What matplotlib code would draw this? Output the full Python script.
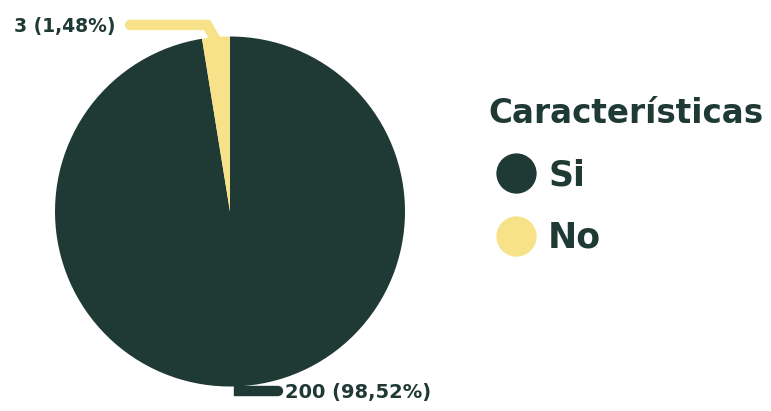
import numpy as np
import matplotlib.pyplot as plt
from matplotlib.lines import Line2D

# data
categories = ["Si", "No"]
values = [200, 3]
pct_labels = ["98,52%", "1,48%"]
colors = ["#1F3A34", "#F7E189"]
legend_title = "Características"

plt.rcParams['font.family'] = ['DejaVu Sans']
dark = "#1F3A34"

W, H = 771, 411
fig = plt.figure(figsize=(W / 100, H / 100), dpi=100)
ax = fig.add_axes([0, 0, 1, 1])

# the source chart draws small slices with a minimum angle
min_angle = 9.2
frac = np.array(values, dtype=float) / sum(values) * 360
disp = np.maximum(frac, min_angle)
big = frac >= min_angle
disp[big] = frac[big] * (360 - disp[~big].sum()) / frac[big].sum()

wedges, _ = ax.pie(disp, colors=colors, startangle=90, counterclock=False,
                   wedgeprops=dict(linewidth=0))

# pie: radius 175 px, centre at (230, 211.5) px from top-left
R = 175.0
cx, cy = 230.0, 211.5
ax.set_xlim(-cx / R, (W - cx) / R)
ax.set_ylim(-(H - cy) / R, cy / R)
ax.set_aspect('equal')
ax.axis('off')

# leader lines + labels
for w, v, p, c in zip(wedges, values, pct_labels, colors):
    ang = np.deg2rad((w.theta1 + w.theta2) / 2)
    x0, y0 = np.cos(ang), np.sin(ang)
    txt = f"{v} ({p})"
    if y0 > 0:
        ey = 1.066
        xs = [x0, -0.131, -0.571]
        ys = [y0 - 0.02, ey, ey]
        ax.plot(xs, ys, color=c, lw=7.5, solid_capstyle='round',
                solid_joinstyle='miter', clip_on=False)
        ax.text(-0.657, ey, txt, ha='right', va='center_baseline', fontsize=13.5,
                fontweight='bold', color=dark)
    else:
        ey = -1.023
        xs = [x0 - 0.03, x0 - 0.03, 0.274]
        ys = [y0 + 0.03, ey, ey]
        ax.plot(xs, ys, color=c, lw=7.5, solid_capstyle='round',
                solid_joinstyle='miter', clip_on=False)
        ax.text(0.314, ey, txt, ha='left', va='center_baseline', fontsize=14,
                fontweight='bold', color=dark)

handles = [Line2D([], [], marker='o', linestyle='', markersize=29,
                  markerfacecolor=c, markeredgewidth=0) for c in colors]
leg = ax.legend(handles, categories, title=legend_title,
                loc='upper left', bbox_to_anchor=(488 / W, 1 - 97 / H),
                bbox_transform=fig.transFigure, frameon=False,
                prop=dict(size=25, weight='bold'),
                title_fontproperties=dict(size=23.5, weight='bold'),
                handlelength=1.6, handletextpad=0.13, labelspacing=0.82,
                borderpad=0, borderaxespad=0)
leg._legend_box.align = 'left'
for t in leg.get_texts():
    t.set_color(dark)
leg.get_title().set_color(dark)

fig.savefig("out.png", dpi=100)
